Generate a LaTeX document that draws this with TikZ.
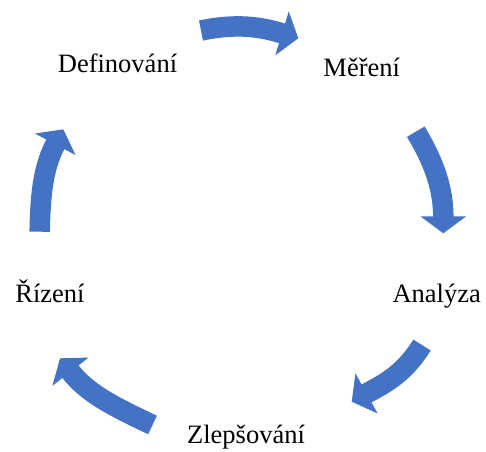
\documentclass[tikz,border=0pt]{standalone}
\usepackage{fontspec}
\setmainfont{Liberation Serif}
\usetikzlibrary{arrows.meta}
\definecolor{cycleblue}{HTML}{4472C4}
\tikzset{
  lbl/.style={anchor=base, inner sep=0pt, font=\fontsize{26.5}{30}\selectfont},
  cyclearrow/.style={draw=cycleblue, line width=20.5pt, line cap=butt,
    -{Triangle[width=45pt,length=17pt]}, cycleblue}
}
\begin{document}
\begin{tikzpicture}[x=1pt,y=1pt]
\useasboundingbox (0,0) rectangle (486,451);
% labels
\node[lbl] (def) at (117.5,379) {Definování};
\node[lbl] (mer) at (361.7,374.3) {Měření};
\node[lbl] (ana) at (436.7,148.7) {Analýza};
\node[lbl] (zle) at (246,7.7) {Zlepšování};
\node[lbl] (riz) at (50,148.7) {Řízení};
% arrow end points
\coordinate (t1) at (201,420.5);   \coordinate (h1) at (298.3,412.7);
\coordinate (t2) at (415.8,319.3); \coordinate (h2) at (443.3,217.7);
\coordinate (t3) at (422,106);     \coordinate (h3) at (351.7,49.3);
\coordinate (t4) at (152.5,26);    \coordinate (h4) at (60,92.7);
\coordinate (t5) at (39.7,219.3);  \coordinate (h5) at (63.3,321.7);
% arrows
\draw[cyclearrow] (t1) to[out=11.6, in=163] (h1);
\draw[cyclearrow] (t2) to[out=-59.1, in=90] (h2);
\draw[cyclearrow] (t3) to[out=-121.6, in=29] (h3);
\draw[cyclearrow] (t4) to[out=154.5, in=-52] (h4);
\draw[cyclearrow] (t5) to[out=89.1, in=242] (h5);
\end{tikzpicture}
\end{document}
